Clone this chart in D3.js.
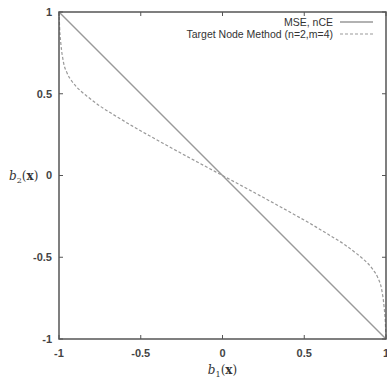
<!DOCTYPE html>
<html>
<head>
<meta charset="utf-8">
<script src="https://cdn.jsdelivr.net/npm/d3@7"></script>
<style>
  body { margin: 0; background: #fff; }
  svg { display: block; }
</style>
</head>
<body>
<div id="chart"></div>
<script>
// tick labels
const xTicks = [-1, -0.5, 0, 0.5, 1];
const yTicks = [-1, -0.5, 0, 0.5, 1];

// MSE, nCE: straight line
const mseX = [-1, 1];
const mseY = [1, -1];

// Target Node Method (n=2,m=4)
const tnX = [-1, -0.996, -0.988, -0.974, -0.95, -0.92, -0.865, -0.82, -0.75, -0.65, -0.55, -0.45, -0.34, -0.24, -0.14, 0,
             0.14, 0.24, 0.34, 0.45, 0.55, 0.65, 0.75, 0.82, 0.865, 0.92, 0.95, 0.974, 0.988, 0.996, 1];
const tnY = [1, 0.9, 0.8, 0.7, 0.625, 0.575, 0.515, 0.478, 0.425, 0.362, 0.302, 0.245, 0.184, 0.129, 0.075, 0,
             -0.075, -0.129, -0.184, -0.245, -0.302, -0.362, -0.425, -0.478, -0.515, -0.575, -0.625, -0.7, -0.8, -0.9, -1];

const width = 387, height = 381;
const margin = {left: 59, right: 1, top: 12, bottom: 42};

const x = d3.scaleLinear().domain([-1, 1]).range([margin.left, width - margin.right]);
const y = d3.scaleLinear().domain([-1, 1]).range([height - margin.bottom, margin.top]);

const svg = d3.select("#chart").append("svg")
    .attr("width", width)
    .attr("height", height);

const axisColor = "#555";
const lineColor = "#999";
const tickLen = 4;
const fmt = d => String(d);

// ticks (mirrored, inward)
const tg = svg.append("g").attr("stroke", axisColor).attr("stroke-width", 1);
xTicks.forEach(t => {
    tg.append("line").attr("x1", x(t)).attr("x2", x(t)).attr("y1", y(-1)).attr("y2", y(-1) - tickLen);
    tg.append("line").attr("x1", x(t)).attr("x2", x(t)).attr("y1", y(1)).attr("y2", y(1) + tickLen);
});
yTicks.forEach(t => {
    tg.append("line").attr("y1", y(t)).attr("y2", y(t)).attr("x1", x(-1)).attr("x2", x(-1) + tickLen);
    tg.append("line").attr("y1", y(t)).attr("y2", y(t)).attr("x1", x(1)).attr("x2", x(1) - tickLen);
});

// tick labels
const labelFont = "'Liberation Sans', Arial, sans-serif";
svg.append("g").selectAll("text")
    .data(xTicks)
    .join("text")
    .attr("x", d => x(d))
    .attr("y", y(-1) + 18)
    .attr("text-anchor", "middle")
    .attr("font-family", labelFont)
    .attr("font-size", 11)
    .attr("font-weight", "bold")
    .attr("fill", "#444")
    .text(fmt);

svg.append("g").selectAll("text")
    .data(yTicks)
    .join("text")
    .attr("x", x(-1) - 7)
    .attr("y", d => y(d))
    .attr("dy", "0.35em")
    .attr("text-anchor", "end")
    .attr("font-family", labelFont)
    .attr("font-size", 11)
    .attr("font-weight", "bold")
    .attr("fill", "#444")
    .text(fmt);

// curves
const line = d3.line().x(d => x(d[0])).y(d => y(d[1]));
const lineCurve = d3.line().x(d => x(d[0])).y(d => y(d[1])).curve(d3.curveMonotoneX);

svg.append("path")
    .attr("d", line(mseX.map((v, i) => [v, mseY[i]])))
    .attr("fill", "none")
    .attr("stroke", lineColor)
    .attr("stroke-width", 1.5);

svg.append("path")
    .attr("d", lineCurve(tnX.map((v, i) => [v, tnY[i]])))
    .attr("fill", "none")
    .attr("stroke", lineColor)
    .attr("stroke-width", 1.2)
    .attr("stroke-dasharray", "3,2");

// frame
svg.append("rect")
    .attr("x", x(-1))
    .attr("y", y(1))
    .attr("width", x(1) - x(-1))
    .attr("height", y(-1) - y(1))
    .attr("fill", "none")
    .attr("stroke", axisColor)
    .attr("stroke-width", 1.5);

// legend
const legend = [
    {label: "MSE, nCE", dash: null},
    {label: "Target Node Method (n=2,m=4)", dash: "3,2"}
];
legend.forEach((d, i) => {
    const ly = 22 + i * 12;
    svg.append("text")
        .attr("x", 333)
        .attr("y", ly)
        .attr("dy", "0.35em")
        .attr("text-anchor", "end")
        .attr("font-family", labelFont)
        .attr("font-size", 10.5)
        .attr("fill", "#333")
        .text(d.label);
    svg.append("line")
        .attr("x1", 340).attr("x2", 373)
        .attr("y1", ly).attr("y2", ly)
        .attr("stroke", lineColor)
        .attr("stroke-width", d.dash ? 1 : 1.5)
        .attr("stroke-dasharray", d.dash);
});

// axis titles
const mathFont = "'DejaVu Serif', 'Liberation Serif', serif";
function mathLabel(g, sub) {
    g.append("tspan").attr("font-style", "italic").text("b");
    g.append("tspan").attr("font-size", 8).attr("dy", 3).text(sub);
    g.append("tspan").attr("dy", -3).text("(");
    g.append("tspan").attr("font-weight", "bold").text("x");
    g.append("tspan").text(")");
}
const xl = svg.append("text")
    .attr("x", x(0))
    .attr("y", 374)
    .attr("text-anchor", "middle")
    .attr("font-family", mathFont)
    .attr("font-size", 12)
    .attr("fill", "#333");
mathLabel(xl, "1");

const yl = svg.append("text")
    .attr("x", 9)
    .attr("y", y(0))
    .attr("dy", "0.35em")
    .attr("font-family", mathFont)
    .attr("font-size", 12)
    .attr("fill", "#333");
mathLabel(yl, "2");
</script>
</body>
</html>
